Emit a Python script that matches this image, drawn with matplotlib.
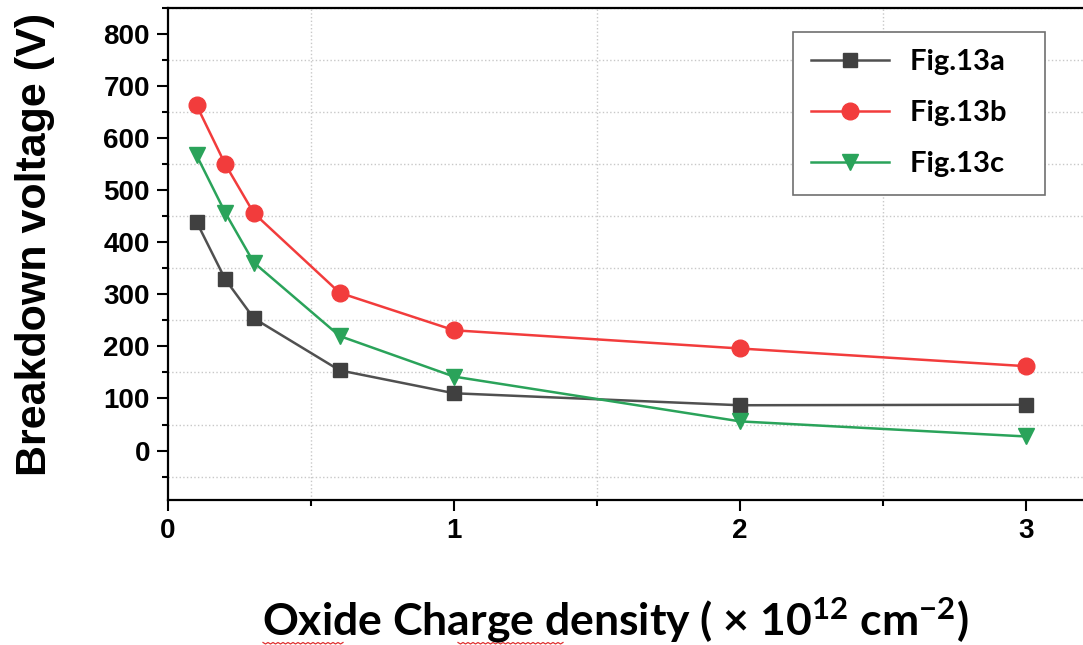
import matplotlib.pyplot as plt
from matplotlib.ticker import MultipleLocator
from matplotlib.lines import Line2D
import numpy as np

plt.rcParams['font.family'] = ['Liberation Sans', 'DejaVu Sans']
plt.rcParams['font.weight'] = 'bold'
plt.rcParams['mathtext.default'] = 'regular'

# data
density = [0.1, 0.2, 0.3, 0.6, 1.0, 2.0, 3.0]
vb_13a = [439, 329, 254, 154, 110, 87, 88]
vb_13b = [663, 550, 456, 303, 231, 196, 162]
vb_13c = [567, 457, 361, 220, 142, 56, 27]
series_names = ['Fig.13a', 'Fig.13b', 'Fig.13c']

fig = plt.figure(figsize=(10.83, 6.45), dpi=100)
ax = fig.add_axes([168 / 1083, 145 / 645, 944 / 1083, 492 / 645])

ax.plot(density, vb_13a, color='#505050', marker='s', markersize=10,
        markerfacecolor='#404040', markeredgecolor='#404040', lw=1.8,
        label=series_names[0] + '   ')
ax.plot(density, vb_13b, color='#f23c3c', marker='o', markersize=12,
        markerfacecolor='#f23c3c', markeredgecolor='#f23c3c', lw=1.8,
        label=series_names[1] + '   ')
ax.plot(density, vb_13c, color='#2aa35a', marker='v', markersize=12,
        markerfacecolor='#2aa35a', markeredgecolor='#2aa35a', lw=1.8,
        label=series_names[2] + '   ')

ax.set_xlim(0, 3.3)
ax.set_ylim(-95, 850)
ax.set_xticks([0, 1, 2, 3])
ax.set_yticks(range(0, 801, 100))
ax.xaxis.set_minor_locator(MultipleLocator(0.5))
ax.yaxis.set_minor_locator(MultipleLocator(50))
ax.grid(which='minor', linestyle=':', color='#c8c8c8', lw=1.0)
ax.grid(which='major', visible=False)
ax.set_axisbelow(True)

for s in ax.spines.values():
    s.set_linewidth(1.6)
ax.tick_params(which='major', direction='out', length=8, width=1.5, labelsize=20, pad=5)
ax.tick_params(which='minor', direction='out', length=4, width=1.5)
for lab in ax.get_xticklabels() + ax.get_yticklabels():
    lab.set_fontweight('bold')

ax.set_ylabel('Breakdown voltage (V)', fontsize=31, fontweight='bold')
ax.yaxis.set_label_coords(-0.12, 0.52)

fig.text(0.568, 0.014, r'Oxide Charge density ( × 10$^{12}$ cm$^{-2}$)',
         fontsize=32, fontweight='bold', family=['Lato', 'DejaVu Sans'],
         ha='center', va='baseline')

# spell-check squiggles under "Oxide" and "density"
for x0, x1 in [(263, 343), (458, 563)]:
    xs = np.arange(x0, x1 + 1, 2.5)
    ys = 642.5 + 1.5 * (np.arange(len(xs)) % 2)
    fig.add_artist(Line2D(xs / 1083, 1 - ys / 645, transform=fig.transFigure,
                          color='#e03030', lw=0.9))

leg = ax.legend(loc='upper left', bbox_to_anchor=((793 - 168) / 944, 1 - (32 - 8) / 492),
                prop={'family': ['Lato', 'DejaVu Sans'], 'weight': 'bold', 'size': 21},
                handlelength=2.7, handletextpad=0.7, labelspacing=0.85,
                borderpad=0.6, borderaxespad=0, fancybox=False, framealpha=1)
leg.get_frame().set_edgecolor('#707070')
leg.get_frame().set_linewidth(1.2)

fig.savefig('out.png', dpi=100, facecolor='white')
